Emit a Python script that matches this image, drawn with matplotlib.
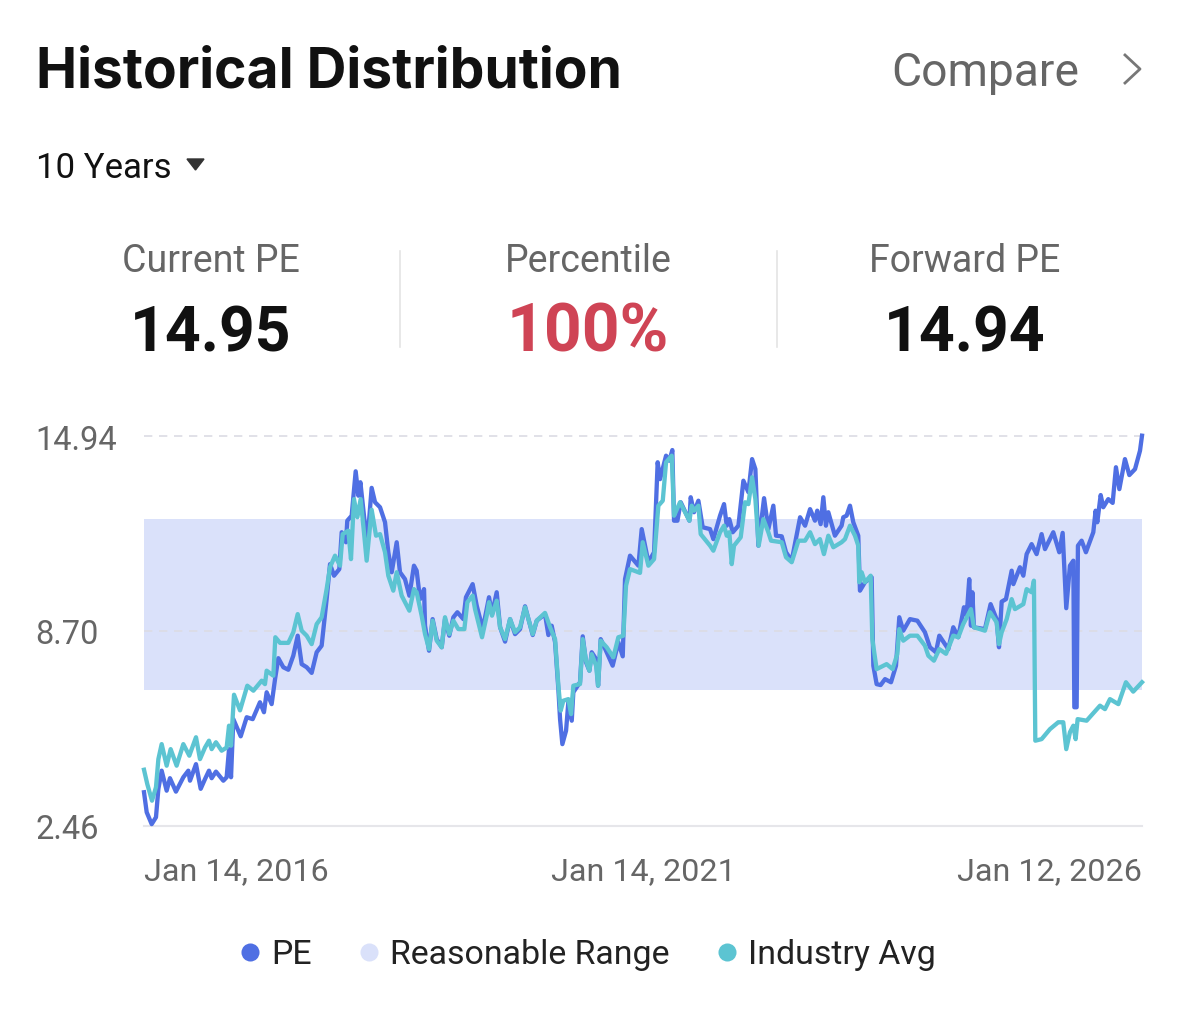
import matplotlib
matplotlib.use("Agg")
import matplotlib.pyplot as plt
from matplotlib.lines import Line2D
from matplotlib.patches import Polygon

plt.rcParams['font.family'] = ['Roboto', 'DejaVu Sans']

# years since Jan 14, 2016
pe_years = [0.00, 0.027, 0.077, 0.12, 0.144, 0.177, 0.227, 0.26, 0.32, 0.394, 0.444, 0.461, 0.521, 0.568, 0.611, 0.651, 0.678, 0.721, 0.795, 0.828,
            0.852, 0.872, 0.895, 0.969, 1.029, 1.089, 1.162, 1.202, 1.229, 1.279, 1.313, 1.346, 1.396, 1.446, 1.496, 1.54, 1.58, 1.63, 1.68, 1.73,
            1.78, 1.83, 1.864, 1.904, 1.957, 1.981, 2.024, 2.037, 2.081, 2.121, 2.148, 2.168, 2.208, 2.238, 2.281, 2.315, 2.365, 2.415, 2.448, 2.482,
            2.532, 2.565, 2.615, 2.659, 2.705, 2.732, 2.766, 2.806, 2.816, 2.856, 2.892, 2.933, 2.983, 3.016, 3.059, 3.10, 3.14, 3.20, 3.226, 3.293,
            3.334, 3.394, 3.434, 3.457, 3.487, 3.534, 3.568, 3.618, 3.668, 3.718, 3.768, 3.818, 3.895, 3.935, 4.018, 4.052, 4.085, 4.119, 4.152, 4.169,
            4.192, 4.229, 4.252, 4.286, 4.302, 4.369, 4.396, 4.429, 4.463, 4.486, 4.53, 4.55, 4.576, 4.636, 4.696, 4.753, 4.797, 4.82, 4.87, 4.954,
            4.987, 5.054, 5.111, 5.147, 5.171, 5.231, 5.264, 5.294, 5.311, 5.345, 5.378, 5.465, 5.478, 5.511, 5.555, 5.598, 5.672, 5.705, 5.772, 5.812,
            5.839, 5.865, 5.899, 5.956, 6.006, 6.056, 6.093, 6.126, 6.156, 6.213, 6.256, 6.306, 6.333, 6.39, 6.433, 6.49, 6.574, 6.624, 6.674, 6.723,
            6.746, 6.78, 6.807, 6.833, 6.857, 6.923, 6.99, 7.007, 7.04, 7.074, 7.107, 7.157, 7.174, 7.224, 7.291, 7.308, 7.341, 7.381, 7.425, 7.485,
            7.535, 7.568, 7.608, 7.675, 7.749, 7.825, 7.875, 7.935, 7.969, 8.059, 8.109, 8.159, 8.216, 8.243, 8.269, 8.286, 8.30, 8.316, 8.426, 8.483,
            8.543, 8.567, 8.594, 8.637, 8.694, 8.711, 8.777, 8.811, 8.844, 8.894, 8.944, 8.994, 9.028, 9.111, 9.171, 9.205, 9.241, 9.278, 9.312, 9.322,
            9.345, 9.358, 9.395, 9.438, 9.512, 9.535, 9.552, 9.586, 9.612, 9.662, 9.706, 9.739, 9.773, 9.829, 9.873, 9.93, 9.98, 10.00]
pe_values = [3.54, 2.90, 2.52, 2.74, 3.65, 4.23, 3.59, 3.99, 3.56, 4.02, 4.23, 3.91, 4.44, 3.65, 3.96, 4.23, 3.99, 4.20, 3.91, 4.02,
             4.92, 4.02, 5.88, 5.33, 5.94, 5.88, 6.42, 6.10, 6.74, 6.36, 7.16, 7.83, 7.54, 7.46, 7.91, 8.55, 7.64, 7.54, 7.36, 8.02,
             8.23, 9.72, 10.84, 10.47, 10.68, 11.86, 11.54, 12.23, 12.39, 13.81, 13.03, 13.46, 12.28, 11.54, 13.28, 12.82, 12.66, 12.18, 11.22, 10.58,
             11.54, 10.58, 10.36, 9.83, 10.79, 10.63, 9.72, 10.04, 8.87, 8.07, 9.08, 8.44, 8.18, 9.08, 8.55, 9.14, 9.30, 9.08, 9.78, 10.20,
             9.51, 8.76, 9.40, 9.78, 9.24, 9.94, 8.82, 8.36, 9.08, 8.60, 8.76, 9.49, 8.57, 9.03, 9.24, 8.57, 8.87, 8.34, 6.84, 5.88,
             5.08, 5.51, 6.42, 5.83, 6.74, 7.06, 8.53, 7.70, 7.43, 8.02, 7.80, 6.95, 8.44, 8.02, 7.59, 8.34, 7.89, 10.36, 11.11, 10.79,
             11.96, 10.90, 11.22, 14.10, 13.56, 14.31, 14.15, 14.49, 12.23, 12.23, 12.82, 12.23, 12.98, 12.50, 12.87, 12.02, 11.96, 11.64, 12.39, 12.76,
             12.07, 12.28, 11.86, 12.07, 13.51, 13.14, 14.20, 13.88, 11.43, 12.95, 11.96, 12.71, 11.75, 11.73, 11.22, 10.95, 12.34, 12.07, 12.60, 12.23,
             12.55, 12.12, 12.98, 12.07, 12.50, 11.75, 12.07, 12.34, 12.39, 12.71, 12.18, 11.75, 9.99, 10.26, 10.42, 7.59, 7.00, 6.97, 7.16, 7.06,
             7.59, 9.14, 8.71, 9.08, 9.03, 8.66, 8.18, 8.02, 8.55, 8.12, 8.82, 8.50, 9.46, 9.19, 10.36, 8.87, 9.94, 8.82, 8.76, 9.56,
             9.08, 8.18, 9.64, 9.72, 10.63, 10.20, 10.74, 10.47, 11.16, 11.48, 11.16, 11.80, 11.32, 11.86, 11.22, 11.84, 9.43, 10.79, 10.95, 6.26,
             6.26, 11.43, 11.59, 11.22, 11.86, 12.55, 12.18, 13.05, 12.66, 12.92, 12.80, 13.94, 13.24, 14.20, 13.69, 13.88, 14.47, 14.95]

ind_years = [0.00, 0.033, 0.08, 0.12, 0.144, 0.177, 0.227, 0.267, 0.327, 0.394, 0.454, 0.521, 0.561, 0.611, 0.651, 0.678, 0.721, 0.778, 0.828, 0.852,
             0.872, 0.902, 0.962, 1.035, 1.096, 1.179, 1.212, 1.229, 1.296, 1.316, 1.363, 1.446, 1.496, 1.54, 1.58, 1.63, 1.68, 1.73, 1.78, 1.83,
             1.864, 1.914, 1.964, 1.991, 2.047, 2.074, 2.104, 2.138, 2.171, 2.204, 2.231, 2.281, 2.325, 2.365, 2.415, 2.448, 2.498, 2.532, 2.582, 2.659,
             2.705, 2.732, 2.782, 2.816, 2.856, 2.892, 2.933, 2.983, 3.016, 3.059, 3.10, 3.15, 3.21, 3.24, 3.293, 3.317, 3.387, 3.434, 3.457, 3.487,
             3.534, 3.568, 3.618, 3.668, 3.718, 3.768, 3.818, 3.895, 3.935, 4.018, 4.069, 4.119, 4.152, 4.175, 4.202, 4.252, 4.279, 4.302, 4.369, 4.396,
             4.429, 4.463, 4.486, 4.53, 4.55, 4.576, 4.636, 4.703, 4.753, 4.803, 4.83, 4.87, 4.97, 4.997, 5.054, 5.111, 5.154, 5.198, 5.231, 5.288,
             5.311, 5.371, 5.465, 5.488, 5.511, 5.555, 5.578, 5.672, 5.705, 5.772, 5.812, 5.839, 5.865, 5.889, 5.912, 5.979, 6.023, 6.056, 6.093, 6.126,
             6.159, 6.206, 6.256, 6.283, 6.39, 6.433, 6.49, 6.557, 6.624, 6.674, 6.723, 6.773, 6.813, 6.857, 6.907, 6.99, 7.024, 7.074, 7.124, 7.157,
             7.167, 7.191, 7.224, 7.281, 7.298, 7.341, 7.441, 7.501, 7.548, 7.568, 7.608, 7.675, 7.749, 7.825, 7.859, 7.915, 7.969, 8.036, 8.109, 8.159,
             8.209, 8.286, 8.316, 8.426, 8.477, 8.543, 8.567, 8.594, 8.644, 8.694, 8.727, 8.811, 8.844, 8.894, 8.917, 8.931, 8.994, 9.078, 9.161, 9.211,
             9.241, 9.278, 9.312, 9.335, 9.355, 9.445, 9.579, 9.629, 9.679, 9.763, 9.839, 9.912, 10.00]
ind_values = [4.26, 3.80, 3.27, 3.70, 4.60, 5.08, 4.39, 4.92, 4.39, 5.08, 4.71, 5.30, 4.60, 4.97, 5.19, 4.92, 5.14, 4.87, 4.97, 5.67,
              5.03, 6.66, 6.16, 6.95, 6.79, 7.11, 7.00, 7.43, 7.27, 8.50, 8.32, 8.32, 8.66, 9.24, 8.71, 8.55, 8.28, 8.92, 9.14, 10.04,
              10.74, 11.11, 10.79, 11.80, 11.91, 11.00, 12.92, 12.34, 12.92, 11.86, 10.95, 12.58, 11.75, 11.80, 11.22, 10.47, 9.99, 10.58, 9.83, 9.35,
              10.04, 9.94, 9.19, 8.60, 8.12, 9.03, 8.39, 8.18, 9.14, 8.60, 9.03, 8.76, 8.76, 9.62, 9.83, 9.40, 8.50, 9.19, 9.62, 9.19,
              9.67, 8.82, 8.44, 9.08, 8.66, 8.82, 9.46, 8.60, 9.03, 9.28, 8.82, 8.44, 6.95, 6.15, 6.47, 6.52, 6.04, 6.95, 7.00, 8.44,
              7.75, 7.43, 7.96, 7.59, 6.95, 8.39, 8.18, 7.86, 8.50, 8.55, 10.15, 10.68, 10.56, 11.54, 10.79, 11.00, 12.71, 12.87, 14.10, 14.31,
              12.39, 12.82, 12.23, 12.71, 12.55, 12.71, 11.80, 11.43, 11.27, 11.86, 12.07, 11.75, 11.86, 10.84, 11.43, 11.70, 12.82, 12.76, 13.62, 12.92,
              11.43, 12.28, 11.86, 11.59, 11.54, 11.06, 10.90, 11.59, 11.59, 11.86, 11.48, 11.64, 11.16, 11.75, 11.38, 11.54, 11.64, 12.07, 11.75, 11.43,
              10.26, 10.58, 10.26, 10.47, 8.44, 7.48, 7.64, 7.48, 7.96, 8.76, 8.39, 8.55, 8.55, 8.23, 7.91, 7.75, 8.12, 7.97, 8.55, 8.50,
              8.92, 9.40, 8.82, 8.71, 9.30, 8.98, 8.28, 8.66, 9.08, 9.72, 9.40, 9.56, 10.04, 9.94, 10.31, 5.19, 5.24, 5.56, 5.78, 5.78,
              4.92, 5.46, 5.67, 5.24, 5.88, 5.83, 6.31, 6.20, 6.52, 6.36, 7.06, 6.76, 7.06]

band_low, band_high = 6.80, 12.30
y_ticks = [2.46, 8.70, 14.94]
y_tick_labels = ["2.46", "8.70", "14.94"]
x_ticks = [0, 5, 10]
x_tick_labels = ["Jan 14, 2016", "Jan 14, 2021", "Jan 12, 2026"]

stat_names = ["Current PE", "Percentile", "Forward PE"]
stat_values = ["14.95", "100%", "14.94"]
legend_names = ["PE", "Reasonable Range", "Industry Avg"]

PE_COLOR = "#4f6fe3"
IND_COLOR = "#5cc4d2"
BAND_COLOR = "#dae1fa"
GREY = "#666666"

W, H = 1179, 1012
fig = plt.figure(figsize=(W / 100, H / 100), dpi=100, facecolor="white")


def fx(px):
    return px / W


def fy(py):
    return 1 - py / H


# header
fig.text(fx(36), fy(72), "Historical Distribution", fontsize=39.7, fontweight="bold", color="#111111",
         va="center", family="Inter")
fig.text(fx(891), fy(73), "Compare", fontsize=33.2, color=GREY, va="center")
fig.add_artist(Line2D([fx(1125), fx(1140), fx(1125)], [fy(56), fy(70), fy(84)], color="#777777", lw=2))
fig.text(fx(36), fy(168), "10 Years", fontsize=25, color="#111111", va="center")
fig.add_artist(Polygon([[fx(187), fy(160)], [fx(204), fy(160)], [fx(195.5), fy(171)]], color="#333333",
                       transform=fig.transFigure))

# stats row
for cx, name, val in zip([211, 588, 965], stat_names, stat_values):
    fig.text(fx(cx), fy(262), name, fontsize=27, color=GREY, ha="center", va="center")
    fig.text(fx(cx), fy(334), val, fontsize=47.5 if name == "Percentile" else 45, fontweight="bold",
             ha="center", va="center", color="#cf4455" if name == "Percentile" else "#111111")
for sx in [400, 777]:
    fig.add_artist(Line2D([fx(sx), fx(sx)], [fy(252), fy(348)], color="#e4e4e4", lw=1.2))

# chart
ax = fig.add_axes([fx(144), fy(827), fx(1142) - fx(144), fy(437) - fy(827)])
ax.axhspan(band_low, band_high, color=BAND_COLOR, lw=0, zorder=1)
for v in y_ticks[1:]:
    ax.axhline(v, color="#dcdce4", lw=1.2, ls=(0, (5, 4)), zorder=2, clip_on=False)
ax.axhline(y_ticks[0], color="#e6e6ea", lw=1.5, zorder=2, clip_on=False)
ax.plot(pe_years, pe_values, color=PE_COLOR, lw=3.1, solid_joinstyle="round", zorder=3, clip_on=False)
ax.plot(ind_years, ind_values, color=IND_COLOR, lw=3.1, solid_joinstyle="round", zorder=4, clip_on=False)

ax.set_xlim(0, 10)
ax.set_ylim(2.46, 14.94)
for s in ax.spines.values():
    s.set_visible(False)
ax.set_yticks(y_ticks, y_tick_labels)
ax.set_xticks(x_ticks, x_tick_labels)
ax.tick_params(axis="y", length=0, pad=78, labelsize=23.5, labelcolor=GREY)
ax.tick_params(axis="x", length=0, pad=22, labelsize=23.2, labelcolor=GREY)
for lab in ax.get_yticklabels():
    lab.set_ha("left")
xlabs = ax.get_xticklabels()
xlabs[0].set_ha("left")
xlabs[2].set_ha("right")

# legend
for dx, tx, name, col in zip([250, 369, 727], [271, 390, 748], legend_names, [PE_COLOR, BAND_COLOR, IND_COLOR]):
    fig.add_artist(Line2D([fx(dx)], [fy(953)], marker="o", ms=13, color=col, mew=0, ls="none"))
    fig.text(fx(tx), fy(955), name, fontsize=24.4, color="#222222", va="center")

fig.savefig("out.png", dpi=100)
